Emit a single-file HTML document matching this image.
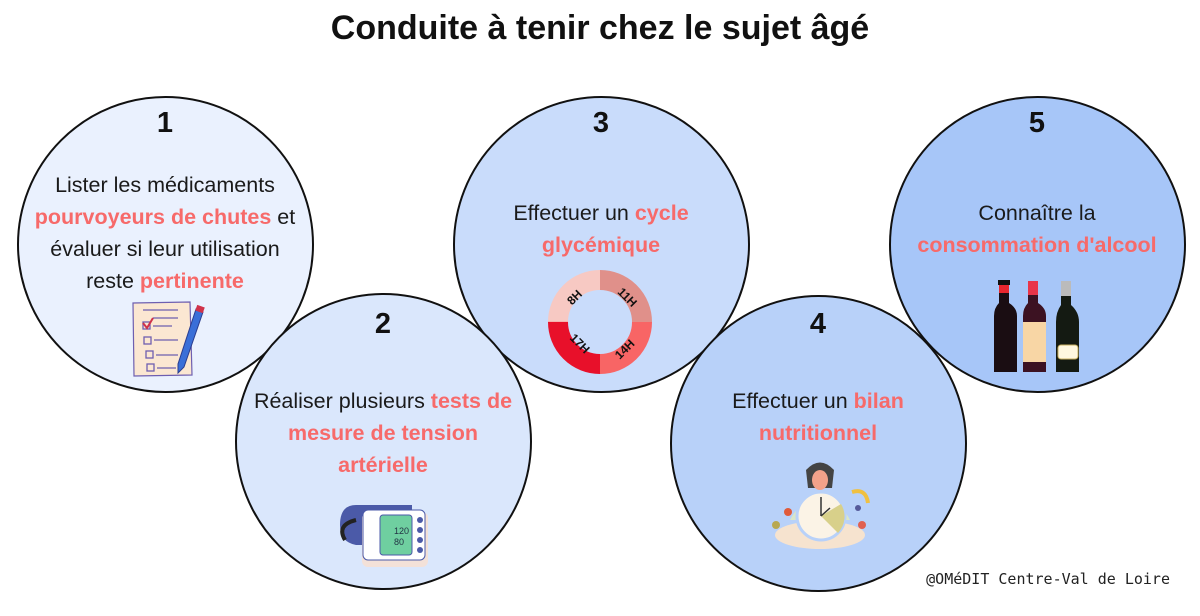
<!DOCTYPE html>
<html><head><meta charset="utf-8">
<style>
html,body{margin:0;padding:0;background:#fff;}
body{width:1200px;height:616px;position:relative;overflow:hidden;font-family:"Liberation Sans",sans-serif;}
.title{position:absolute;left:0;width:1200px;top:9px;text-align:center;font-size:34px;font-weight:bold;color:#111;}
.c{position:absolute;width:293px;height:293px;border:2.5px solid #111;border-radius:50%;box-sizing:content-box;}
.n{position:absolute;text-align:center;font-size:29px;font-weight:bold;color:#111;width:60px;}
.p{color:#f76a6a;font-weight:bold;}
.tx{position:absolute;text-align:center;font-size:21.5px;color:#1a1a1a;line-height:32px;}
.cr{position:absolute;right:30px;top:570px;font-family:"DejaVu Sans Mono","Liberation Mono",monospace;font-size:15px;color:#222;}
</style></head><body>
<div class="title">Conduite à tenir chez le sujet âgé</div>

<div class="c" style="left:17px;top:96px;background:#eaf1fe;"></div>
<div class="c" style="left:453px;top:96px;background:#c9dcfb;"></div>
<div class="c" style="left:889px;top:96px;background:#a7c6f8;"></div>
<div class="c" style="left:235px;top:293px;background:#dae7fc;"></div>
<div class="c" style="left:670px;top:295px;background:#b8d1f9;"></div>

<div class="n" style="left:135px;top:107px;">1</div>
<div class="n" style="left:571px;top:107px;">3</div>
<div class="n" style="left:1007px;top:107px;">5</div>
<div class="n" style="left:353px;top:308px;">2</div>
<div class="n" style="left:788px;top:308px;">4</div>

<div class="tx" style="left:5px;width:320px;top:169px;">Lister les médicaments<br><span class="p">pourvoyeurs de chutes</span> et<br>évaluer si leur utilisation<br>reste <span class="p">pertinente</span></div>
<div class="tx" style="left:441px;width:320px;top:197px;">Effectuer un <span class="p">cycle</span><br><span class="p">glycémique</span></div>
<div class="tx" style="left:877px;width:320px;top:197px;">Connaître la<br><span class="p">consommation d'alcool</span></div>
<div class="tx" style="left:223px;width:320px;top:385px;">Réaliser plusieurs <span class="p">tests de</span><br><span class="p">mesure de tension</span><br><span class="p">artérielle</span></div>
<div class="tx" style="left:658px;width:320px;top:385px;">Effectuer un <span class="p">bilan</span><br><span class="p">nutritionnel</span></div>

<svg width="1200" height="616" style="position:absolute;left:0;top:0;">
<g>
<path d="M133 303 L190 302 L192 375 L134 376 Z" fill="#fbe7d2" stroke="#6e5fb0" stroke-width="1.2"/>
<g stroke="#6e5fb0" stroke-width="1.3" fill="none">
<line x1="143" y1="310" x2="178" y2="310"/><line x1="153" y1="318" x2="178" y2="318"/>
<rect x="143" y="322" width="7" height="7"/><line x1="153" y1="326" x2="172" y2="326"/>
<rect x="144" y="337" width="7" height="7"/><line x1="154" y1="340" x2="178" y2="340"/>
<rect x="146" y="351" width="7" height="7"/><line x1="156" y1="355" x2="178" y2="355"/>
<rect x="147" y="364" width="7" height="7"/><line x1="157" y1="368" x2="176" y2="368"/>
</g>
<path d="M143 323 L147 328 L153 318" stroke="#d0324a" stroke-width="2" fill="none"/>
<path d="M196 309 L203 312 L184 367 L178 373 L178 364 Z" fill="#3a6fd8" stroke="#2a3d8f" stroke-width="1"/>
<rect x="196" y="306" width="8" height="6" fill="#d0324a" transform="rotate(20 200 309)"/>
</g>
<g transform="translate(600,322)">
<circle r="42" fill="none" stroke="#f7c9c3" stroke-width="20" stroke-dasharray="66 400" transform="rotate(180)"/>
<circle r="42" fill="none" stroke="#e0908a" stroke-width="20" stroke-dasharray="66 400" transform="rotate(270)"/>
<circle r="42" fill="none" stroke="#f86565" stroke-width="20" stroke-dasharray="66 400" transform="rotate(0)"/>
<circle r="42" fill="none" stroke="#e8102a" stroke-width="20" stroke-dasharray="66 400" transform="rotate(90)"/>
<text x="-32" y="-18" font-size="12" font-weight="bold" transform="rotate(-45 -28 -22)" fill="#111">8H</text>
<text x="18" y="-24" font-size="12" font-weight="bold" transform="rotate(45 24 -28)" fill="#111">11H</text>
<text x="14" y="32" font-size="12" font-weight="bold" transform="rotate(-45 24 28)" fill="#111">14H</text>
<text x="-38" y="22" font-size="12" font-weight="bold" transform="rotate(45 -28 28)" fill="#111">17H</text>
</g>
<g>
<rect x="999" y="281" width="10" height="12" fill="#e8262e"/><rect x="998" y="280" width="12" height="5" fill="#111"/>
<path d="M999 293 L1009 293 L1009 303 Q1017 308 1017 316 L1017 372 L994 372 L994 316 Q994 308 999 303 Z" fill="#1a0d12"/>
<rect x="1028" y="281" width="10" height="14" fill="#e8354a"/>
<path d="M1028 295 L1038 295 L1038 303 Q1046 308 1046 316 L1046 372 L1023 372 L1023 316 Q1023 308 1028 303 Z" fill="#3c1222"/>
<rect x="1023" y="322" width="23" height="40" fill="#f8d6a5"/>
<rect x="1061" y="281" width="10" height="15" fill="#bbb"/>
<path d="M1061 296 L1071 296 L1071 305 Q1079 312 1079 322 L1079 372 L1056 372 L1056 322 Q1056 312 1061 305 Z" fill="#141a12"/>
<rect x="1058" y="345" width="20" height="14" rx="3" fill="#fff8e0" stroke="#c8b060"/>
</g>
<g>
<path d="M356 505 Q340 505 340 525 Q340 542 356 545 L412 545 L412 505 Z" fill="#4b5aa8"/>
<path d="M356 520 Q336 525 345 540" stroke="#222" stroke-width="4" fill="none"/>
<rect x="362" y="512" width="66" height="55" rx="6" fill="#f3e1d8"/>
<rect x="363" y="510" width="62" height="50" rx="5" fill="#fff" stroke="#4b5aa8" stroke-width="1"/>
<rect x="380" y="515" width="32" height="40" rx="3" fill="#6fcfa0" stroke="#4b5aa8"/>
<text x="394" y="534" font-size="9" fill="#234">120</text><text x="394" y="545" font-size="9" fill="#234">80</text>
<circle cx="420" cy="520" r="3" fill="#4b5aa8"/><circle cx="420" cy="530" r="3" fill="#4b5aa8"/><circle cx="420" cy="540" r="3" fill="#4b5aa8"/><circle cx="420" cy="550" r="3" fill="#4b5aa8"/>
</g>
<g>
<ellipse cx="820" cy="535" rx="45" ry="14" fill="#f6e3cf"/>
<path d="M806 470 Q820 455 834 470 L832 488 L808 488 Z" fill="#444"/>
<ellipse cx="820" cy="480" rx="8" ry="10" fill="#f3a28a"/>
<path d="M790 520 Q800 500 820 498 Q840 500 850 520" fill="#d9e6c8"/>
<circle cx="821" cy="516" r="24" fill="#fbf3e6" stroke="#b8d1f9" stroke-width="3"/>
<path d="M821 516 L841 504 A24 24 0 0 1 838 533 Z" fill="#d8d08a"/>
<line x1="821" y1="516" x2="821" y2="497" stroke="#333" stroke-width="1.5"/><line x1="821" y1="516" x2="830" y2="508" stroke="#333" stroke-width="1.5"/>
<circle cx="788" cy="512" r="4" fill="#e05a3a"/><circle cx="776" cy="525" r="4" fill="#b8a850"/><circle cx="862" cy="525" r="4" fill="#e06050"/><circle cx="858" cy="508" r="3" fill="#555a9a"/>
<path d="M852 492 Q866 488 868 503" stroke="#f0c040" stroke-width="4" fill="none"/>
</g>
</svg>

<div class="cr">@OMéDIT Centre-Val de Loire</div>
</body></html>
